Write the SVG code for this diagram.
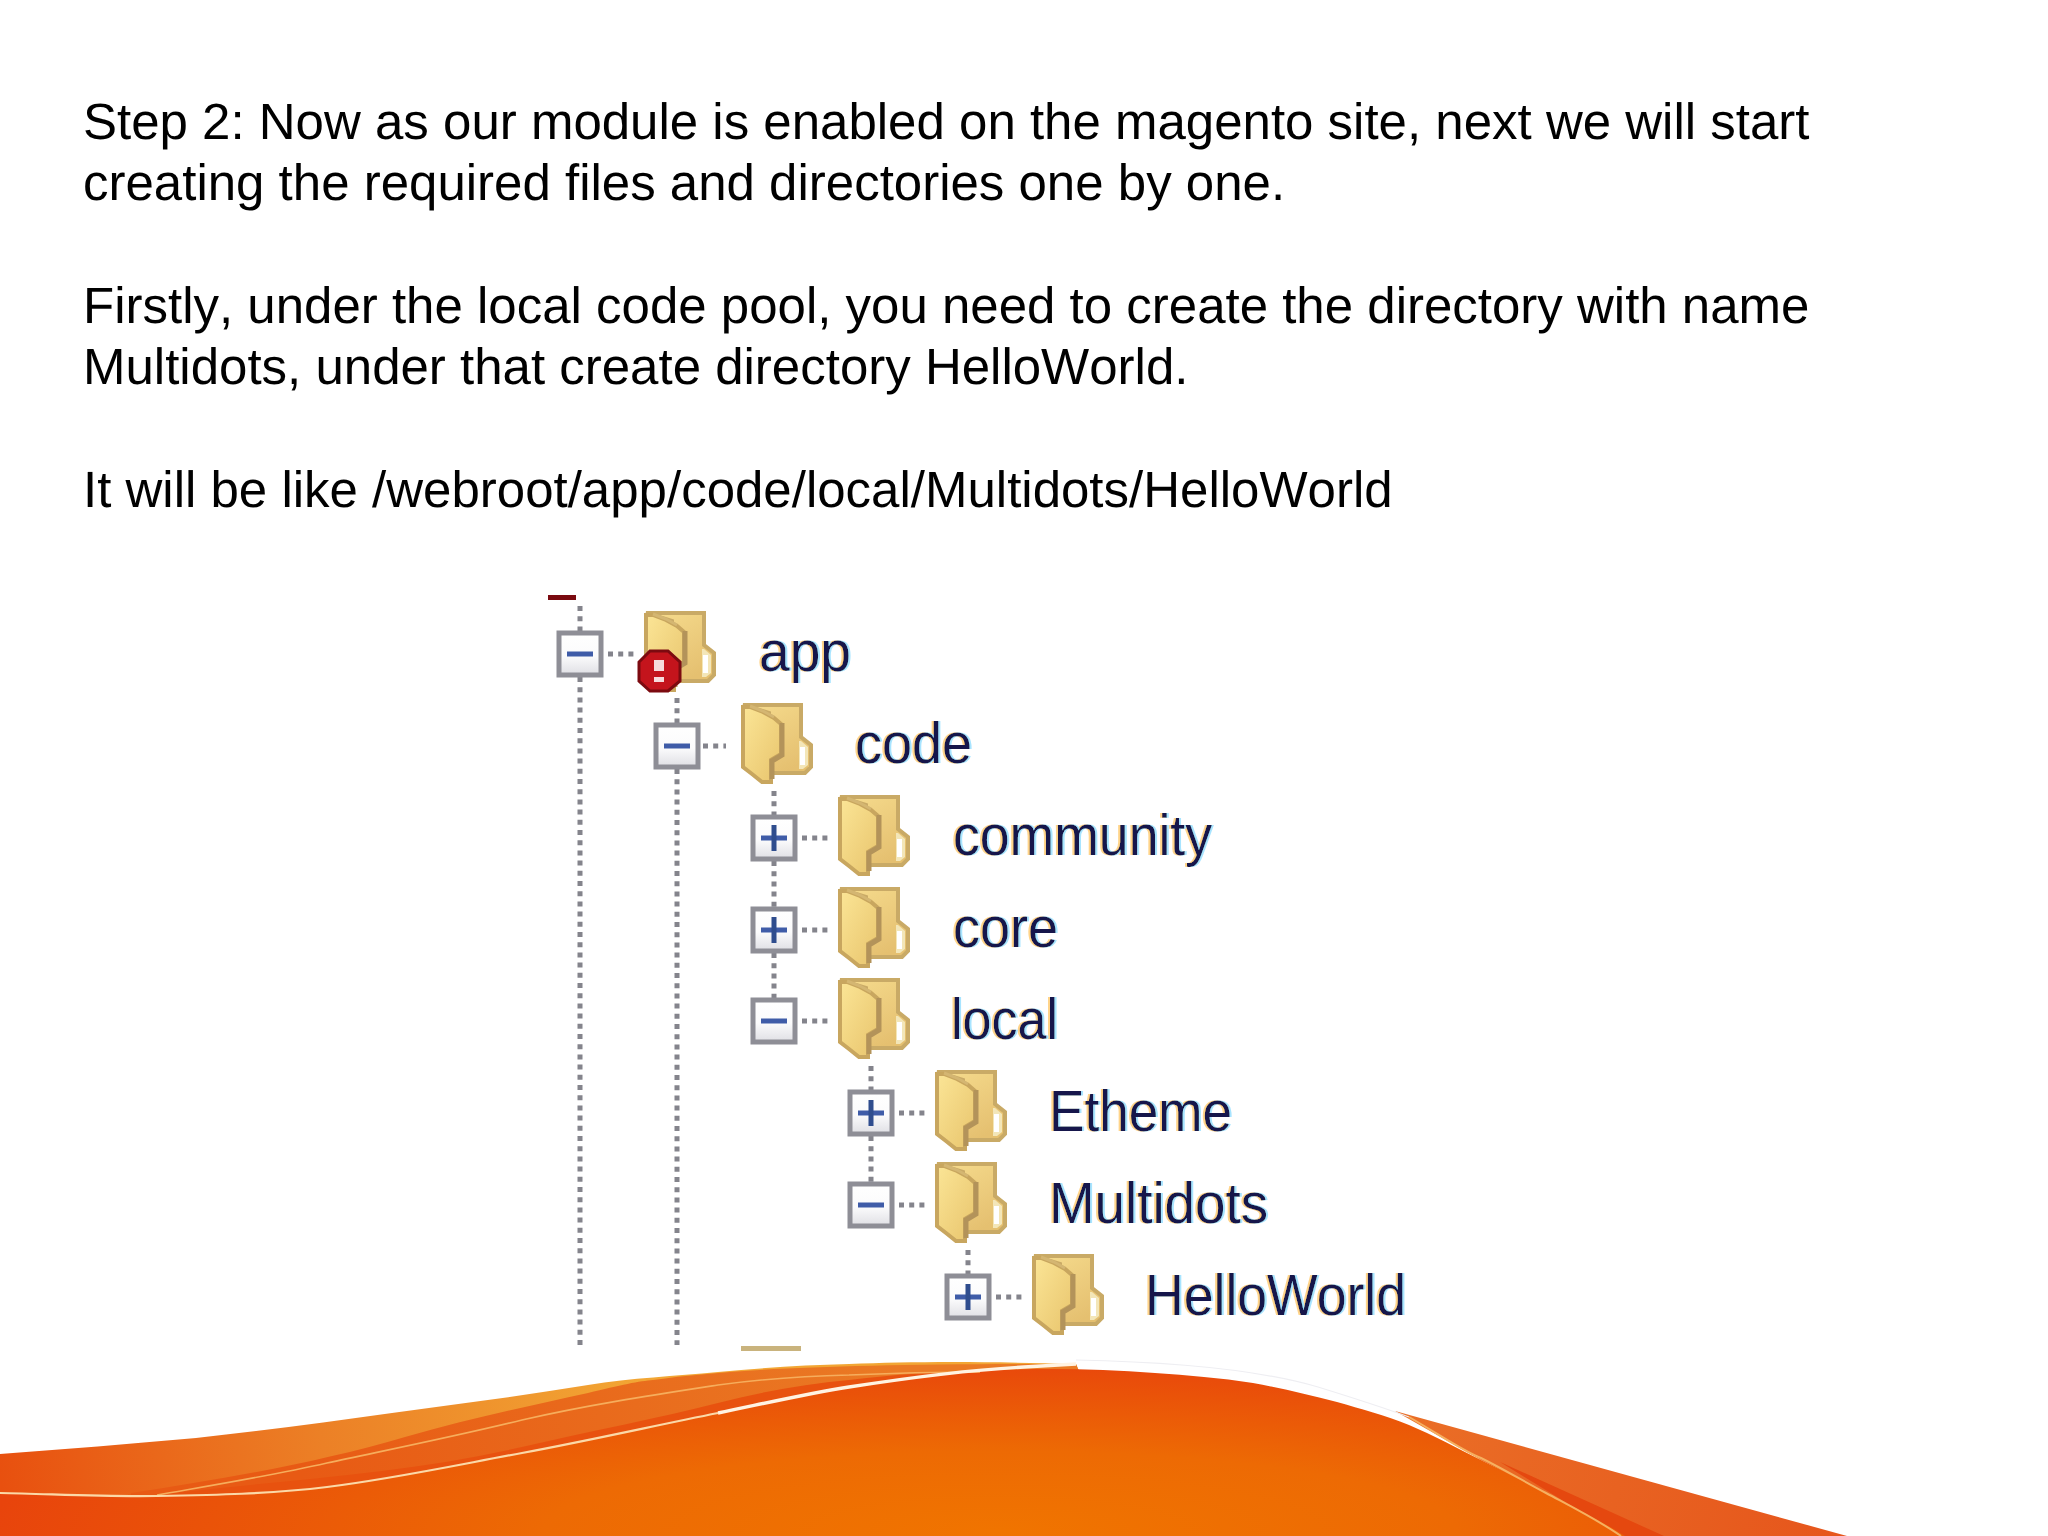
<svg xmlns="http://www.w3.org/2000/svg" width="2048" height="1536" viewBox="0 0 2048 1536">
<style>
.body{font-family:"Liberation Sans",Arial,sans-serif;font-size:51px;fill:#000;font-kerning:none;text-rendering:geometricPrecision}
.lbl{font-family:"Liberation Sans",Arial,sans-serif;font-size:58px;fill:#14144c;filter:url(#fringe)}
.dots{fill:none;stroke:#84848c;stroke-width:5;stroke-dasharray:5 5.2}
.box{fill:url(#boxFill);stroke:#8e8e96;stroke-width:5}
.sign{fill:#3f5ca8}
</style>
<defs>
<linearGradient id="boxFill" x1="0" y1="0" x2="0" y2="1"><stop offset="0" stop-color="#fff"/><stop offset="0.55" stop-color="#fbfbfc"/><stop offset="1" stop-color="#dfdfe4"/></linearGradient>
<linearGradient id="back" x1="0" y1="0" x2="0.6" y2="1"><stop offset="0" stop-color="#f6dc8e"/><stop offset="1" stop-color="#e5c070"/></linearGradient>
<linearGradient id="flap" x1="0" y1="0" x2="1" y2="1"><stop offset="0" stop-color="#fbe596"/><stop offset="1" stop-color="#e8c46c"/></linearGradient>
<radialGradient id="dome" gradientUnits="userSpaceOnUse" cx="0" cy="0" r="1" gradientTransform="translate(1000 1530) scale(1010 175)"><stop offset="0" stop-color="#f07400"/><stop offset="0.45" stop-color="#ed6a04"/><stop offset="1" stop-color="#e8440c"/></radialGradient>
<linearGradient id="band1" gradientUnits="userSpaceOnUse" x1="0" y1="1480" x2="640" y2="1380"><stop offset="0" stop-color="#e8500f"/><stop offset="0.5" stop-color="#ec8026"/><stop offset="1" stop-color="#f2a634"/></linearGradient>
<linearGradient id="band2" gradientUnits="userSpaceOnUse" x1="300" y1="1470" x2="900" y2="1370"><stop offset="0" stop-color="#e85a14"/><stop offset="1" stop-color="#ea7a24"/></linearGradient>
<linearGradient id="wedge" gradientUnits="userSpaceOnUse" x1="1400" y1="1420" x2="1840" y2="1536"><stop offset="0" stop-color="#ea6e26"/><stop offset="1" stop-color="#e6561c"/></linearGradient>
<filter id="fringe" x="-5%" y="-5%" width="110%" height="110%">
<feFlood flood-color="#ffd48a"/><feComposite in2="SourceAlpha" operator="in"/><feOffset dx="-2"/><feGaussianBlur stdDeviation="0.6" result="a"/>
<feFlood flood-color="#a8e4ff"/><feComposite in2="SourceAlpha" operator="in"/><feOffset dx="2"/><feGaussianBlur stdDeviation="0.6" result="b"/>
<feMerge><feMergeNode in="a"/><feMergeNode in="b"/><feMergeNode in="SourceGraphic"/></feMerge>
</filter>
<filter id="soft" x="-5%" y="-5%" width="110%" height="110%"><feGaussianBlur stdDeviation="0.7"/></filter>
<g id="folder" filter="url(#soft)">
<path d="M2 2H60V34L70 42V64L64 70H28V10Z" fill="url(#back)" stroke="#c9aa66" stroke-width="4"/>
<path d="M60 38L67 44V62L62 66H58V38Z" fill="#f3e6b8"/>
<rect x="59" y="44" width="5" height="18" fill="#fff"/>
<path d="M2 4V64L11 71L21 79H30V57L40 51V21L33 15L22 9L9 4Z" fill="url(#flap)" stroke="#c8a65e" stroke-width="4"/>
<path d="M41 20V52L31 58V76" fill="none" stroke="#b3935a" stroke-width="5"/>
<path d="M9 3L22 8L33 14" fill="none" stroke="#d4b672" stroke-width="3"/>
</g>
<g id="minus"><rect class="box" x="-21" y="-21" width="42" height="42"/><rect class="sign" x="-13" y="-2.5" width="26" height="5"/></g>
<g id="plus"><rect class="box" x="-21" y="-21" width="42" height="42"/><rect class="sign" x="-13" y="-2.5" width="26" height="5"/><rect x="-2.5" y="-13" width="5" height="26" fill="#2f4d8e"/></g>
</defs>
<rect width="2048" height="1536" fill="#fff"/>

<g id="swoosh">
<path d="M0 1454C65 1449 130 1444 196 1438C262 1431 327 1422 392 1413C457 1404 522 1396 588 1385C632 1378 675 1376 718 1372C762 1368 805 1365 849 1364C907 1362 966 1361 1076 1364L1100 1420L900 1536H0Z" fill="url(#band1)"/>
<path d="M131 1493C230 1478 320 1462 405 1437C470 1418 530 1406 588 1393C620 1385 640 1381 653 1380C740 1368 850 1364 1076 1364L1100 1420L900 1536H131Z" fill="url(#band2)"/>
<path d="M157 1495C280 1480 400 1475 522 1447C590 1431 660 1418 718 1403C760 1392 805 1384 849 1380C890 1375 930 1372 960 1372L1024 1400L900 1536H157Z" fill="#e8520f"/>
<path d="M1395 1411L1847 1536H1625L1481 1460Z" fill="url(#wedge)"/>
<path d="M1500 1462L1664 1536H1621Z" fill="#e5480f"/>
<path d="M0 1493C52 1494 105 1497 157 1496C214 1495 270 1494 327 1487C392 1479 457 1465 522 1453C587 1441 653 1426 718 1413C762 1404 805 1394 849 1387C907 1378 960 1370 1000 1370C1052 1368 1103 1369 1155 1373C1188 1375 1220 1378 1253 1383C1281 1388 1309 1395 1337 1402C1361 1409 1385 1415 1409 1425C1433 1435 1457 1448 1481 1460C1503 1471 1524 1481 1546 1493C1572 1507 1600 1520 1625 1536H0Z" fill="url(#dome)"/>
<path d="M157 1495C214 1485 270 1476 327 1463C392 1449 457 1436 522 1420C587 1405 653 1395 718 1385C762 1379 805 1376 849 1375C893 1373 936 1372 980 1372" fill="none" stroke="#f6ad5c" stroke-width="1.6"/>
<path d="M0 1493C52 1494 105 1497 157 1496C214 1495 270 1494 327 1487C392 1479 457 1465 522 1453C587 1441 653 1426 718 1413" fill="none" stroke="#fbd9a8" stroke-width="2.2"/>
<path d="M718 1413C762 1404 805 1394 849 1387C907 1378 966 1370 1024 1367C1040 1366 1060 1365 1076 1364" fill="none" stroke="#fff3e2" stroke-width="3.4"/>
<path d="M1076 1360C1180 1362 1260 1370 1318 1387C1360 1400 1390 1410 1409 1417" fill="none" stroke="#eeeef2" stroke-width="1.2"/>
<path d="M1409 1417C1440 1435 1465 1452 1481 1458C1505 1470 1525 1482 1546 1493C1572 1507 1598 1520 1621 1536" fill="none" stroke="#f6b060" stroke-width="2"/>
</g>

<g id="text">
<text class="body" x="83" y="139">Step 2: Now as our module is enabled on the magento site, next we will start</text>
<text class="body" x="83" y="200">creating the required files and directories one by one.</text>
<text class="body" x="83" y="323">Firstly, under the local code pool, you need to create the directory with name</text>
<text class="body" x="83" y="384">Multidots, under that create directory HelloWorld.</text>
<text class="body" x="83" y="507">It will be like /webroot/app/code/local/Multidots/HelloWorld</text>
</g>

<rect id="top-dash" x="548" y="595" width="28" height="5" fill="#7a0a10"/>
<rect id="bottom-dash" x="741" y="1346" width="60" height="5" fill="#c9b37d"/>

<g id="connectors">
<path class="dots" d="M580 606V631M580 677V1345M677 698V723M677 769V1345M774 791V815M774 861V907M774 953V998M871 1066V1090M871 1136V1182M968 1250V1274"/>
<path class="dots" d="M608 654H636M703 746H726M802 838H830M802 930H830M802 1021H830M899 1113H927M899 1205H927M996 1297H1024"/>
</g>

<g id="node-app"><use href="#minus" x="580" y="654"/><use href="#folder" x="644" y="611"/>
<g id="badge"><path d="M650 651H668L680 662V681L668 691H650L639 681V662Z" fill="#c4141c" stroke="#7c0a10" stroke-width="3"/><rect x="654" y="660" width="10" height="11" fill="#f6dcdc"/><rect x="654" y="677" width="10" height="5" fill="#f6dcdc"/></g>
<text class="lbl" x="759" y="671" textLength="92" lengthAdjust="spacingAndGlyphs">app</text></g>
<g id="node-code"><use href="#minus" x="677" y="746"/><use href="#folder" x="741" y="703"/><text class="lbl" x="855" y="763" textLength="117" lengthAdjust="spacingAndGlyphs">code</text></g>
<g id="node-community"><use href="#plus" x="774" y="838"/><use href="#folder" x="838" y="795"/><text class="lbl" x="953" y="855" textLength="259" lengthAdjust="spacingAndGlyphs">community</text></g>
<g id="node-core"><use href="#plus" x="774" y="930"/><use href="#folder" x="838" y="887"/><text class="lbl" x="953" y="947" textLength="105" lengthAdjust="spacingAndGlyphs">core</text></g>
<g id="node-local"><use href="#minus" x="774" y="1021"/><use href="#folder" x="838" y="978"/><text class="lbl" x="951" y="1039" textLength="107" lengthAdjust="spacingAndGlyphs">local</text></g>
<g id="node-etheme"><use href="#plus" x="871" y="1113"/><use href="#folder" x="935" y="1070"/><text class="lbl" x="1049" y="1131" textLength="183" lengthAdjust="spacingAndGlyphs">Etheme</text></g>
<g id="node-multidots"><use href="#minus" x="871" y="1205"/><use href="#folder" x="935" y="1162"/><text class="lbl" x="1049" y="1223" textLength="219" lengthAdjust="spacingAndGlyphs">Multidots</text></g>
<g id="node-helloworld"><use href="#plus" x="968" y="1297"/><use href="#folder" x="1032" y="1254"/><text class="lbl" x="1145" y="1315" textLength="261" lengthAdjust="spacingAndGlyphs">HelloWorld</text></g>
</svg>
